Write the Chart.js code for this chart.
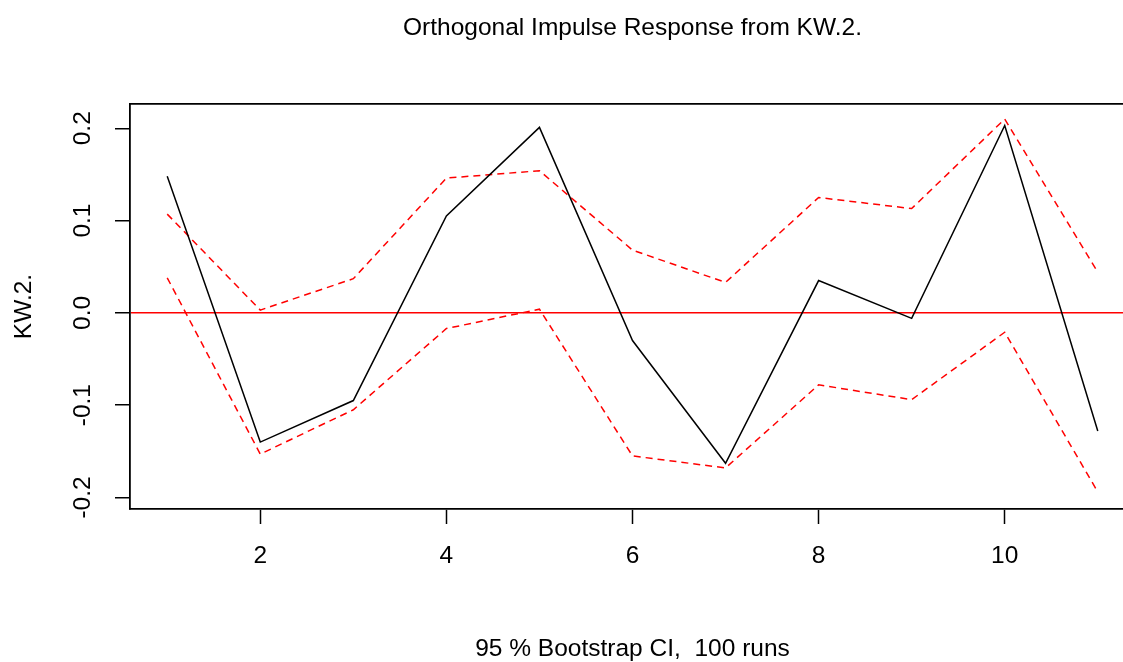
<!DOCTYPE html>
<html>
<head>
<meta charset="utf-8">
<script src="https://cdn.jsdelivr.net/npm/chart.js"></script>
<style>
  html, body { margin: 0; padding: 0; overflow: hidden; background: #fff; }
</style>
</head>
<body>
<canvas id="irf" width="1135" height="662"></canvas>
<script>
// data
const steps = [1, 2, 3, 4, 5, 6, 7, 8, 9, 10, 11];
const response = [0.148, -0.140, -0.095, 0.105, 0.201, -0.030, -0.163, 0.035, -0.006, 0.203, -0.128];
const upperCI = [0.107, 0.003, 0.037, 0.146, 0.154, 0.068, 0.033, 0.125, 0.113, 0.210, 0.044];
const lowerCI = [0.038, -0.153, -0.105, -0.017, 0.004, -0.155, -0.168, -0.078, -0.094, -0.021, -0.194];
const xTicks = [2, 4, 6, 8, 10];
const yTicks = [-0.2, -0.1, 0.0, 0.1, 0.2];

const FONT = "'Liberation Sans', Arial, sans-serif";
const fontSize = 24.5;

const toPoints = (vals) => vals.map((v, i) => ({ x: steps[i], y: v }));

const ctx = document.getElementById("irf").getContext("2d");
new Chart(ctx, {
  type: "line",
  data: {
    datasets: [
      { data: toPoints(response), borderColor: "#000", borderWidth: 1.5, pointRadius: 0, tension: 0 },
      { data: toPoints(upperCI), borderColor: "#ff0000", borderWidth: 1.5, borderDash: [7, 5], pointRadius: 0, tension: 0 },
      { data: toPoints(lowerCI), borderColor: "#ff0000", borderWidth: 1.5, borderDash: [7, 5], pointRadius: 0, tension: 0 }
    ]
  },
  options: {
    responsive: false,
    animation: false,
    layout: { padding: 0 },
    plugins: { legend: { display: false }, tooltip: { enabled: false } },
    scales: {
      x: {
        type: "linear",
        position: "bottom",
        min: 0.6,
        max: 11.4,
        afterBuildTicks: (s) => { s.ticks = xTicks.map(v => ({ value: v })); },
        afterFit: (s) => { s.height = 153; },
        grid: { drawOnChartArea: false, drawTicks: true, tickLength: 15, tickColor: "#000", tickWidth: 1.5 },
        border: { display: true, color: "#000", width: 1.8 },
        ticks: { color: "#000", font: { family: FONT, size: fontSize }, padding: 18, maxRotation: 0 },
        title: { display: true, text: "95 % Bootstrap CI,  100 runs", color: "#000",
                 font: { family: FONT, size: fontSize, lineHeight: 1.05 }, padding: { top: 0, bottom: 0 } }
      },
      x2: {
        type: "linear",
        position: "top",
        min: 0.6,
        max: 11.4,
        afterFit: (s) => { s.height = 104; },
        grid: { display: false },
        border: { display: true, color: "#000", width: 1.8 },
        ticks: { display: false },
        title: { display: true, text: "Orthogonal Impulse Response from KW.2.", color: "#000",
                 font: { family: FONT, size: fontSize }, padding: { top: 14, bottom: 0 } }
      },
      y: {
        type: "linear",
        min: -0.2125,
        max: 0.2263,
        afterBuildTicks: (s) => { s.ticks = yTicks.map(v => ({ value: v })); },
        afterFit: (s) => { s.width = 130; },
        grid: {
          drawOnChartArea: true,
          color: (c) => (c.tick && c.tick.value === 0 ? "#ff0000" : "rgba(0,0,0,0)"),
          lineWidth: 1.5,
          tickLength: 15,
          tickColor: "#000",
          tickWidth: 1.5
        },
        border: { display: true, color: "#000", width: 1.8 },
        ticks: {
          color: "#000",
          font: { family: FONT, size: fontSize },
          minRotation: 90,
          maxRotation: 90,
          crossAlign: "center",
          padding: 11,
          callback: (v) => v.toFixed(1)
        },
        title: { display: true, text: "KW.2.", color: "#000",
                 font: { family: FONT, size: fontSize }, padding: { top: 10, bottom: 0 } }
      }
    }
  }
});
</script>
</body>
</html>
